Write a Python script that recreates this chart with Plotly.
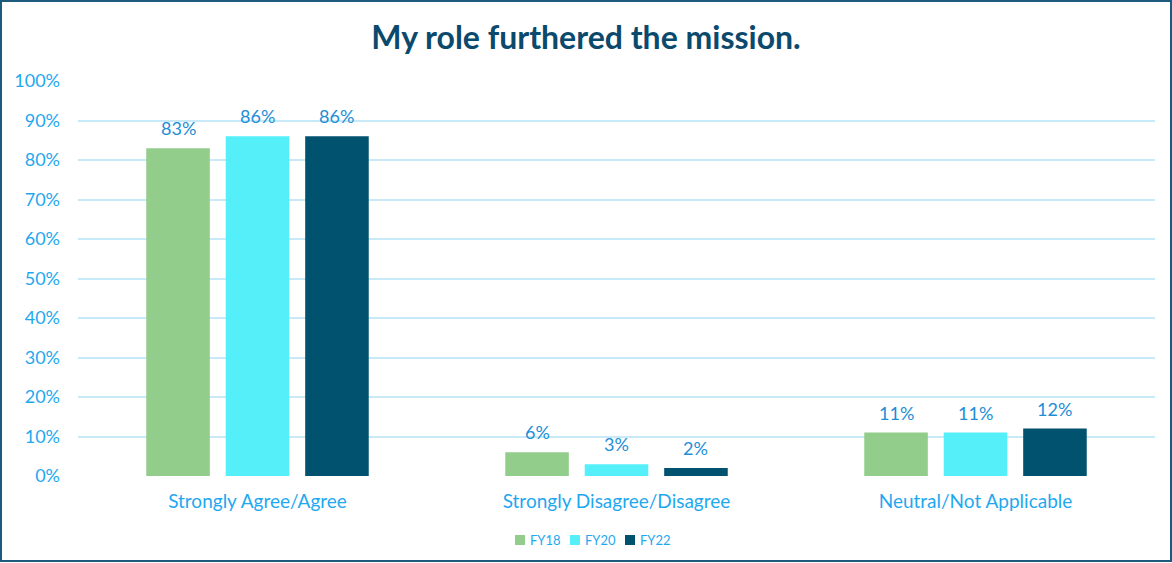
import plotly.graph_objects as go

# Survey responses by fiscal year
categories = ["Strongly Agree/Agree", "Strongly Disagree/Disagree", "Neutral/Not Applicable"]
series_names = ["FY18", "FY20", "FY22"]
fy18 = [0.83, 0.06, 0.11]
fy20 = [0.86, 0.03, 0.11]
fy22 = [0.86, 0.02, 0.12]
y_ticks = [0, 0.1, 0.2, 0.3, 0.4, 0.5, 0.6, 0.7, 0.8, 0.9, 1.0]

colors = ["#92CD8B", "#55EFFA", "#00526F"]
label_color = "#1E8ED6"
axis_text = "#1FA8F0"
grid_color = "#C8EAF8"
font_family = "Lato, 'Open Sans', sans-serif"

W, H = 1172, 563
ml, mr, mt, mb = 78, 17, 81, 87
pw = W - ml - mr
ph = H - mt - mb

bargap = 0.336
bargroupgap = 0.2
n_series = len(series_names)
cat_px = pw / len(categories)
slot_px = cat_px * (1 - bargap) / n_series

fig = go.Figure()
annotations = []
for i, (name, vals, col) in enumerate(zip(series_names, [fy18, fy20, fy22], colors)):
    fig.add_trace(go.Bar(
        name=name,
        x=categories,
        y=vals,
        marker=dict(color=col, line=dict(width=0)),
        showlegend=False,
    ))
    # value labels sitting just above each bar of this series
    offset = (i - (n_series - 1) / 2) * slot_px
    for cat, v in zip(categories, vals):
        annotations.append(dict(
            x=cat, y=v, xref="x", yref="y",
            text=f"{v:.0%}", showarrow=False,
            xanchor="center", yanchor="bottom",
            xshift=offset, yshift=7,
            font=dict(color=label_color, size=18, family=font_family),
        ))

# Compact legend below the axis: small square swatch followed by the series name
legend_y = -(540 - (mt + ph)) / ph
shapes = []
for i, (name, col) in enumerate(zip(series_names, colors)):
    cx = (520 + i * 55 - ml) / pw
    shapes.append(dict(
        type="rect", xref="paper", yref="paper",
        x0=cx - 5 / pw, x1=cx + 5 / pw,
        y0=legend_y - 5 / ph, y1=legend_y + 5 / ph,
        line=dict(width=0), fillcolor=col,
    ))
    annotations.append(dict(
        xref="paper", yref="paper", x=cx + 8 / pw, y=legend_y,
        xanchor="left", yanchor="middle", showarrow=False,
        text=name,
        font=dict(size=13, color=axis_text, family=font_family),
    ))

# Outer frame around the whole chart
shapes.append(dict(
    type="rect", xref="paper", yref="paper",
    x0=(1 - ml) / pw, x1=(W - 1 - ml) / pw,
    y0=-(H - 2 - mt - ph) / ph, y1=(mt - 1) / ph + 1,
    line=dict(color="#1D5B7E", width=2),
    fillcolor="rgba(0,0,0,0)",
    layer="above",
))

fig.update_layout(
    width=W, height=H,
    margin=dict(l=ml, r=mr, t=mt, b=mb),
    paper_bgcolor="white",
    plot_bgcolor="white",
    barmode="group",
    bargap=bargap,
    bargroupgap=bargroupgap,
    showlegend=False,
    font=dict(family=font_family, color=axis_text),
    title=dict(
        text="<b>My role furthered the mission.</b>",
        x=0.5, xanchor="center",
        y=1 - 38 / H, yanchor="middle",
        font=dict(size=32, color="#0B4A6C", family=font_family),
    ),
    xaxis=dict(
        showgrid=False, showline=False, zeroline=False,
        ticks="", tickfont=dict(size=19, color=axis_text),
        ticklabelstandoff=12,
    ),
    yaxis=dict(
        range=[0, 1.0],
        tickvals=y_ticks,
        tickformat=".0%",
        showgrid=True, gridcolor=grid_color, gridwidth=2,
        zeroline=False, showline=False,
        ticks="", tickfont=dict(size=18, color=axis_text),
        ticklabelstandoff=17,
    ),
    shapes=shapes,
    annotations=annotations,
)

fig.write_html("out.html")
